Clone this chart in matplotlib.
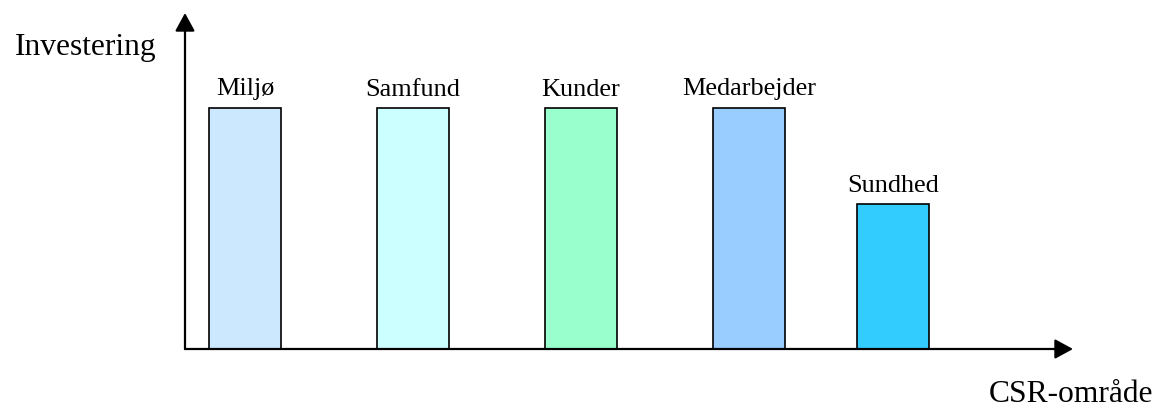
import matplotlib.pyplot as plt

plt.rcParams['font.family'] = ['Liberation Serif', 'DejaVu Serif']

# data
categories = ['Miljø', 'Samfund', 'Kunder', 'Medarbejder', 'Sundhed']
investment = [10, 10, 10, 10, 6]
bar_colors = ['#CCE8FF', '#CCFFFF', '#99FFCC', '#99CCFF', '#33CCFF']

# layout (bar centres on the x axis, in bar-spacing units)
x_pos = [0.357, 1.357, 2.357, 3.357, 4.214]
bar_width = 0.43

W, H = 1157, 408
fig = plt.figure(figsize=(W / 100, H / 100), dpi=100)
# axes from the origin (185, 349) to the arrow tips (1073, 13)
ax = fig.add_axes([185 / W, (H - 349) / H, (1073 - 185) / W, (349 - 13) / H])
ax.set_xlim(0, (1073 - 185) / 168)
ax.set_ylim(0, 10 * 336 / 241)

ax.bar(x_pos, investment, width=bar_width, color=bar_colors,
       edgecolor='black', linewidth=1.2, zorder=2)

for x, v, name in zip(x_pos, investment, categories):
    ax.annotate(name, (x, v), xytext=(0, 9), textcoords='offset points',
                ha='center', va='baseline', fontsize=18.9)

for side in ax.spines.values():
    side.set_visible(False)
ax.set_xticks([])
ax.set_yticks([])

arrow = dict(arrowstyle='-|>,head_length=1.1,head_width=0.6',
             color='black', lw=1.6, shrinkA=0, shrinkB=0)
ax.annotate('', xy=(1, 0), xytext=(0, 0), xycoords='axes fraction',
            arrowprops=arrow, zorder=3)
ax.annotate('', xy=(0, 1), xytext=(0, 0), xycoords='axes fraction',
            arrowprops=arrow, zorder=3)

fig.text(157 / W, 1 - 55 / H, 'Investering', ha='right', va='baseline',
         fontsize=22.7)
fig.text(1153 / W, 1 - 402 / H, 'CSR-område', ha='right', va='baseline',
         fontsize=22.7)

fig.savefig('out.png', dpi=100)
